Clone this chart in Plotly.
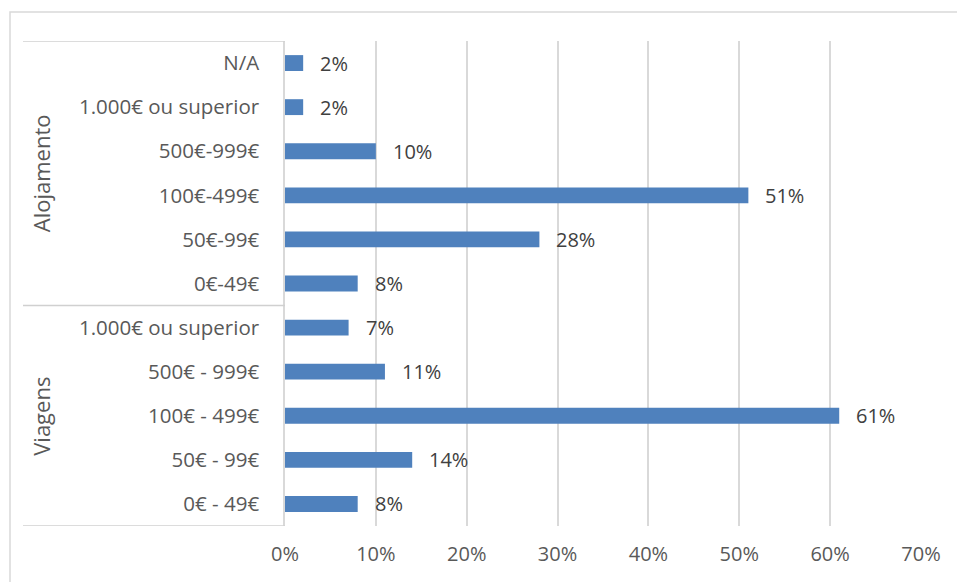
import plotly.graph_objects as go

# Survey answers: spending ranges per group, top to bottom
groups = ["Alojamento"] * 6 + ["Viagens"] * 5
categories = [
    "N/A", "1.000€ ou superior", "500€-999€", "100€-499€", "50€-99€", "0€-49€",
    "1.000€ ou superior", "500€ - 999€", "100€ - 499€", "50€ - 99€", "0€ - 49€",
]
values = [2, 2, 10, 51, 28, 8, 7, 11, 61, 14, 8]
x_ticks = [0, 10, 20, 30, 40, 50, 60, 70]

W, H = 957, 582
L, R, T, B = 285, 36, 41, 56
PW, PH = W - L - R, H - T - B

def px_x(p):
    return (p - L) / PW

def px_y(p):
    return 1 - (p - T) / PH

BAR = "#4F81BD"
GRID = "#D9D9D9"
FONT = "Open Sans, Lato, sans-serif"

pos = list(range(len(categories)))

fig = go.Figure()
fig.add_trace(go.Bar(
    x=values, y=pos, orientation="h",
    marker=dict(color=BAR, line=dict(width=0)),
    width=0.36, hoverinfo="skip",
))

# value labels next to each bar
for v, p in zip(values, pos):
    fig.add_annotation(
        x=v, y=p, xref="x", yref="y", text=f"{v}%", showarrow=False,
        xanchor="left", yanchor="middle", xshift=15,
        font=dict(family=FONT, size=20, color="#404040"),
    )

# group labels (rotated) and separators in the category area
group_names = []
for g in groups:
    if g not in group_names:
        group_names.append(g)
for g in group_names:
    idx = [i for i, gg in enumerate(groups) if gg == g]
    fig.add_annotation(
        x=px_x(41), y=sum(idx) / len(idx), xref="paper", yref="y",
        text=g, textangle=-90, showarrow=False,
        xanchor="center", yanchor="middle",
        font=dict(family=FONT, size=22, color="#595959"),
    )

bounds = [-0.5]
for i in range(1, len(groups)):
    if groups[i] != groups[i - 1]:
        bounds.append(i - 0.5)
bounds.append(len(groups) - 0.5)
for b in bounds:
    fig.add_shape(type="line", xref="paper", yref="y",
                  x0=px_x(23), x1=0, y0=b, y1=b,
                  line=dict(color="#D0D0D0", width=1.5))

# outer chart frame
fig.add_shape(type="rect", xref="paper", yref="paper",
              x0=px_x(10), x1=px_x(965), y0=px_y(595), y1=px_y(12),
              line=dict(color=GRID, width=1.5), layer="below")

fig.update_layout(
    width=W, height=H,
    margin=dict(l=L, r=R, t=T, b=B, pad=0),
    paper_bgcolor="white", plot_bgcolor="white",
    showlegend=False,
    font=dict(family=FONT, color="#595959", size=20),
    xaxis=dict(
        range=[0, 70], tickvals=x_ticks, ticktext=[f"{t}%" for t in x_ticks],
        showgrid=True, gridcolor=GRID, gridwidth=1.5, zeroline=False,
        showline=False, ticks="", ticklabelstandoff=14,
        tickfont=dict(family=FONT, size=20, color="#595959"),
        fixedrange=True,
    ),
    yaxis=dict(
        range=[len(categories) - 0.5, -0.5],
        tickvals=pos, ticktext=categories,
        showgrid=False, zeroline=False,
        showline=True, linecolor=GRID, linewidth=1.5,
        ticks="", ticklabelstandoff=20,
        tickfont=dict(family=FONT, size=20.5, color="#595959"),
        fixedrange=True,
    ),
)

fig.write_html("out.html")
